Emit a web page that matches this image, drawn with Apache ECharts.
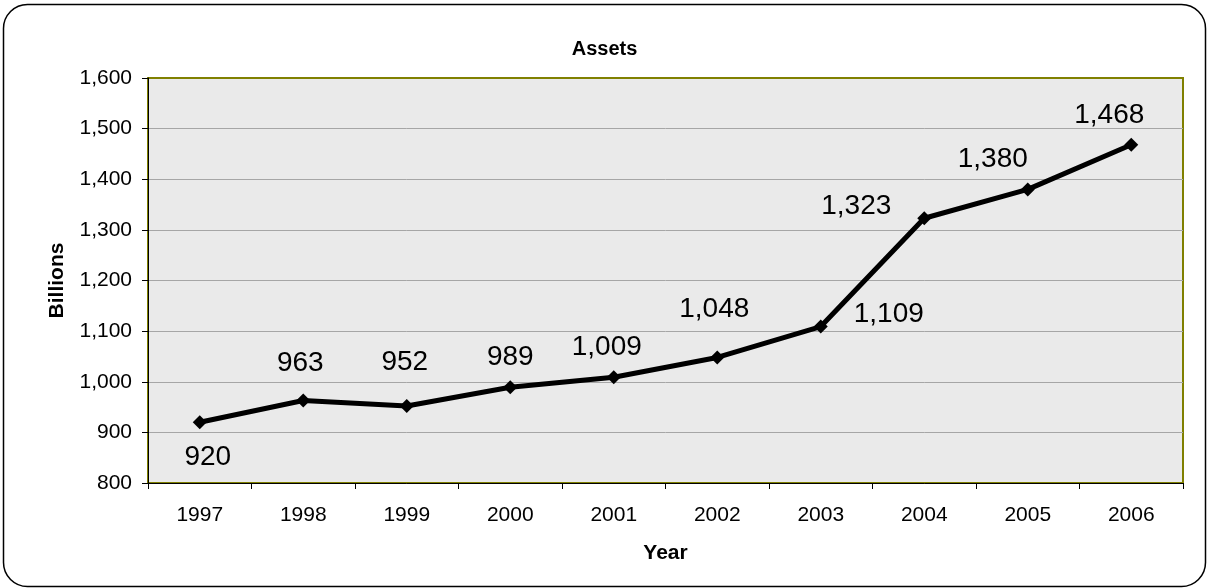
<!DOCTYPE html>
<html>
<head>
<meta charset="utf-8">
<title>Assets</title>
<script src="https://cdn.jsdelivr.net/npm/echarts@6/dist/echarts.min.js"></script>
<style>
  html, body { margin: 0; padding: 0; background: #ffffff; }
  #chart { width: 1209px; height: 588px; }
</style>
</head>
<body>
<div id="chart"></div>
<script>
// Total assets by year, in billions
const years = ['1997', '1998', '1999', '2000', '2001', '2002', '2003', '2004', '2005', '2006'];
const assets = [920, 963, 952, 989, 1009, 1048, 1109, 1323, 1380, 1468];
const yTicks = { min: 800, max: 1600, step: 100 };

// Where each value label sits relative to its marker (dx, dy in px)
const labelOffsets = [
  [8, 35], [-3, -37], [-2, -44], [0, -30], [-7, -30],
  [-3, -48], [68, -12], [-68, -12], [-35, -30], [-22, -30]
];

const fmt = v => v.toLocaleString('en-US');
const FONT = '"Liberation Sans", Arial, sans-serif';

const chart = echarts.init(document.getElementById('chart'), null, { renderer: 'canvas' });

chart.setOption({
  backgroundColor: '#ffffff',
  animation: false,
  textStyle: { fontFamily: FONT, color: '#000' },
  graphic: [{
    type: 'rect',
    shape: { x: 3.5, y: 4.5, width: 1202, height: 582, r: 24 },
    style: { fill: 'none', stroke: '#000', lineWidth: 1.5 },
    silent: true,
    z: -10
  }],
  title: {
    text: 'Assets',
    left: 'center',
    top: 34,
    textStyle: { fontFamily: FONT, fontSize: 20, fontWeight: 'bold', color: '#000' }
  },
  grid: {
    left: 148, right: 26, top: 78, bottom: 105,
    show: true,
    backgroundColor: '#eaeaea',
    borderColor: '#808000',
    borderWidth: 2
  },
  xAxis: {
    type: 'category',
    data: years,
    boundaryGap: true,
    name: 'Year',
    nameLocation: 'middle',
    nameGap: 60,
    nameTextStyle: { fontFamily: FONT, fontSize: 21, fontWeight: 'bold', color: '#000' },
    axisLine: { lineStyle: { color: '#000', width: 1 } },
    axisTick: { show: true, length: 6, lineStyle: { color: '#000' } },
    axisLabel: { fontFamily: FONT, fontSize: 21, color: '#000', margin: 22 },
    splitLine: { show: false }
  },
  yAxis: {
    type: 'value',
    min: yTicks.min,
    max: yTicks.max,
    interval: yTicks.step,
    name: 'Billions',
    nameLocation: 'middle',
    nameRotate: 90,
    nameGap: 80,
    nameTextStyle: { fontFamily: FONT, fontSize: 21, fontWeight: 'bold', color: '#000' },
    axisLine: { show: true, lineStyle: { color: '#000', width: 1 } },
    axisTick: { show: true, length: 6, lineStyle: { color: '#000' } },
    axisLabel: { fontFamily: FONT, fontSize: 21, color: '#000', margin: 16, formatter: fmt },
    splitLine: {
      show: true,
      showMinLine: false,
      showMaxLine: false,
      lineStyle: { color: '#a6a6a6', width: 1 }
    }
  },
  series: [{
    type: 'line',
    data: assets.map((v, i) => ({
      value: v,
      label: {
        show: true,
        position: 'inside',
        offset: labelOffsets[i],
        formatter: p => fmt(p.value)
      }
    })),
    lineStyle: { color: '#000', width: 5 },
    itemStyle: { color: '#000' },
    symbol: 'diamond',
    symbolSize: 14,
    label: { fontFamily: FONT, fontSize: 28, color: '#000' },
    z: 5
  }]
});
</script>
</body>
</html>
